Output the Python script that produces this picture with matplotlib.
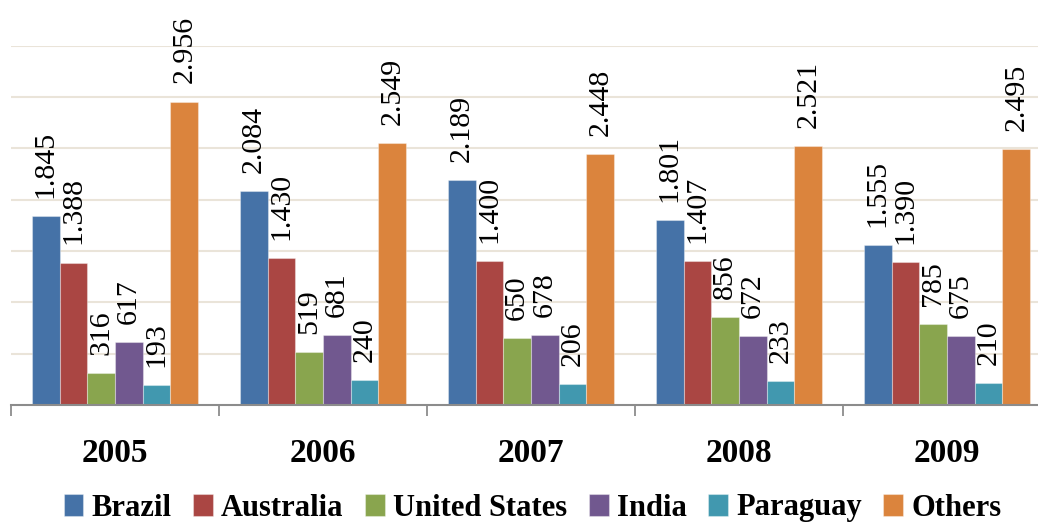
import matplotlib
matplotlib.use("Agg")
import matplotlib.pyplot as plt
import numpy as np
from matplotlib.ticker import FixedLocator

years = ["2005", "2006", "2007", "2008", "2009"]
series_names = ["Brazil", "Australia", "United States", "India", "Paraguay", "Others"]
brazil = [1845, 2084, 2189, 1801, 1555]
australia = [1388, 1430, 1400, 1407, 1390]
united_states = [316, 519, 650, 856, 785]
india = [617, 681, 678, 672, 675]
paraguay = [193, 240, 206, 233, 210]
others = [2956, 2549, 2448, 2521, 2495]
series_values = [brazil, australia, united_states, india, paraguay, others]
colors = ["#4572A7", "#AA4643", "#89A54E", "#71588F", "#4198AF", "#DB843D"]

plt.rcParams['font.family'] = ['Liberation Serif', 'DejaVu Serif']

W, H = 1038, 524
fig = plt.figure(figsize=(W / 100, H / 100), dpi=100)
ax = fig.add_axes([11 / W, (H - 405) / H, 1040 / W, (405 - 45.7) / H])

n = len(series_names)
bw = 1 / (n + 1.5)
x = np.arange(len(years))

def fmt(v):
    return f"{v:,}".replace(",", ".")

for i, (name, vals, c) in enumerate(zip(series_names, series_values, colors)):
    pos = x + (i - (n - 1) / 2) * bw
    bars = ax.bar(pos, vals, width=bw, color=c, edgecolor=(1, 1, 1, 0.35),
                  linewidth=0.8, label=name, zorder=3)
    for b, v in zip(bars, vals):
        ax.annotate(fmt(v), (b.get_x() + b.get_width() / 2, v),
                    xytext=(0, 13), textcoords="offset points",
                    rotation=90, ha="center", va="bottom", fontsize=21.5,
                    color="black", zorder=4)

ax.set_ylim(0, 3500)
ax.set_xlim(-0.5, 4.5)
ax.set_yticks(np.arange(500, 3501, 500))
ax.yaxis.grid(True, color="#EAE4D9", linewidth=1.5, zorder=0)
ax.tick_params(axis="y", left=False, labelleft=False)

ax.xaxis.set_major_locator(FixedLocator(np.arange(-0.5, 5, 1.0)))
ax.xaxis.set_minor_locator(FixedLocator(x))
ax.xaxis.set_minor_formatter(matplotlib.ticker.FixedFormatter(years))
ax.xaxis.set_major_formatter(matplotlib.ticker.NullFormatter())
ax.tick_params(axis="x", which="major", length=8, width=1.3, color="#8C8C8C", direction="out")
ax.tick_params(axis="x", which="minor", length=0, pad=24, labelsize=24)
for lbl in ax.get_xticklabels(minor=True):
    lbl.set_fontweight("bold")

for s in ["left", "right", "top"]:
    ax.spines[s].set_visible(False)
ax.spines["bottom"].set_color("#8C8C8C")
ax.spines["bottom"].set_linewidth(1.5)
ax.spines["bottom"].set_zorder(5)

fig.legend(loc="center", bbox_to_anchor=(0.513, (H - 508) / H), ncol=6, frameon=False,
           prop={"size": 22, "weight": "bold"}, handlelength=0.65, handleheight=0.75,
           handletextpad=0.27, columnspacing=0.7, borderaxespad=0)

fig.savefig("out.png", dpi=100)
